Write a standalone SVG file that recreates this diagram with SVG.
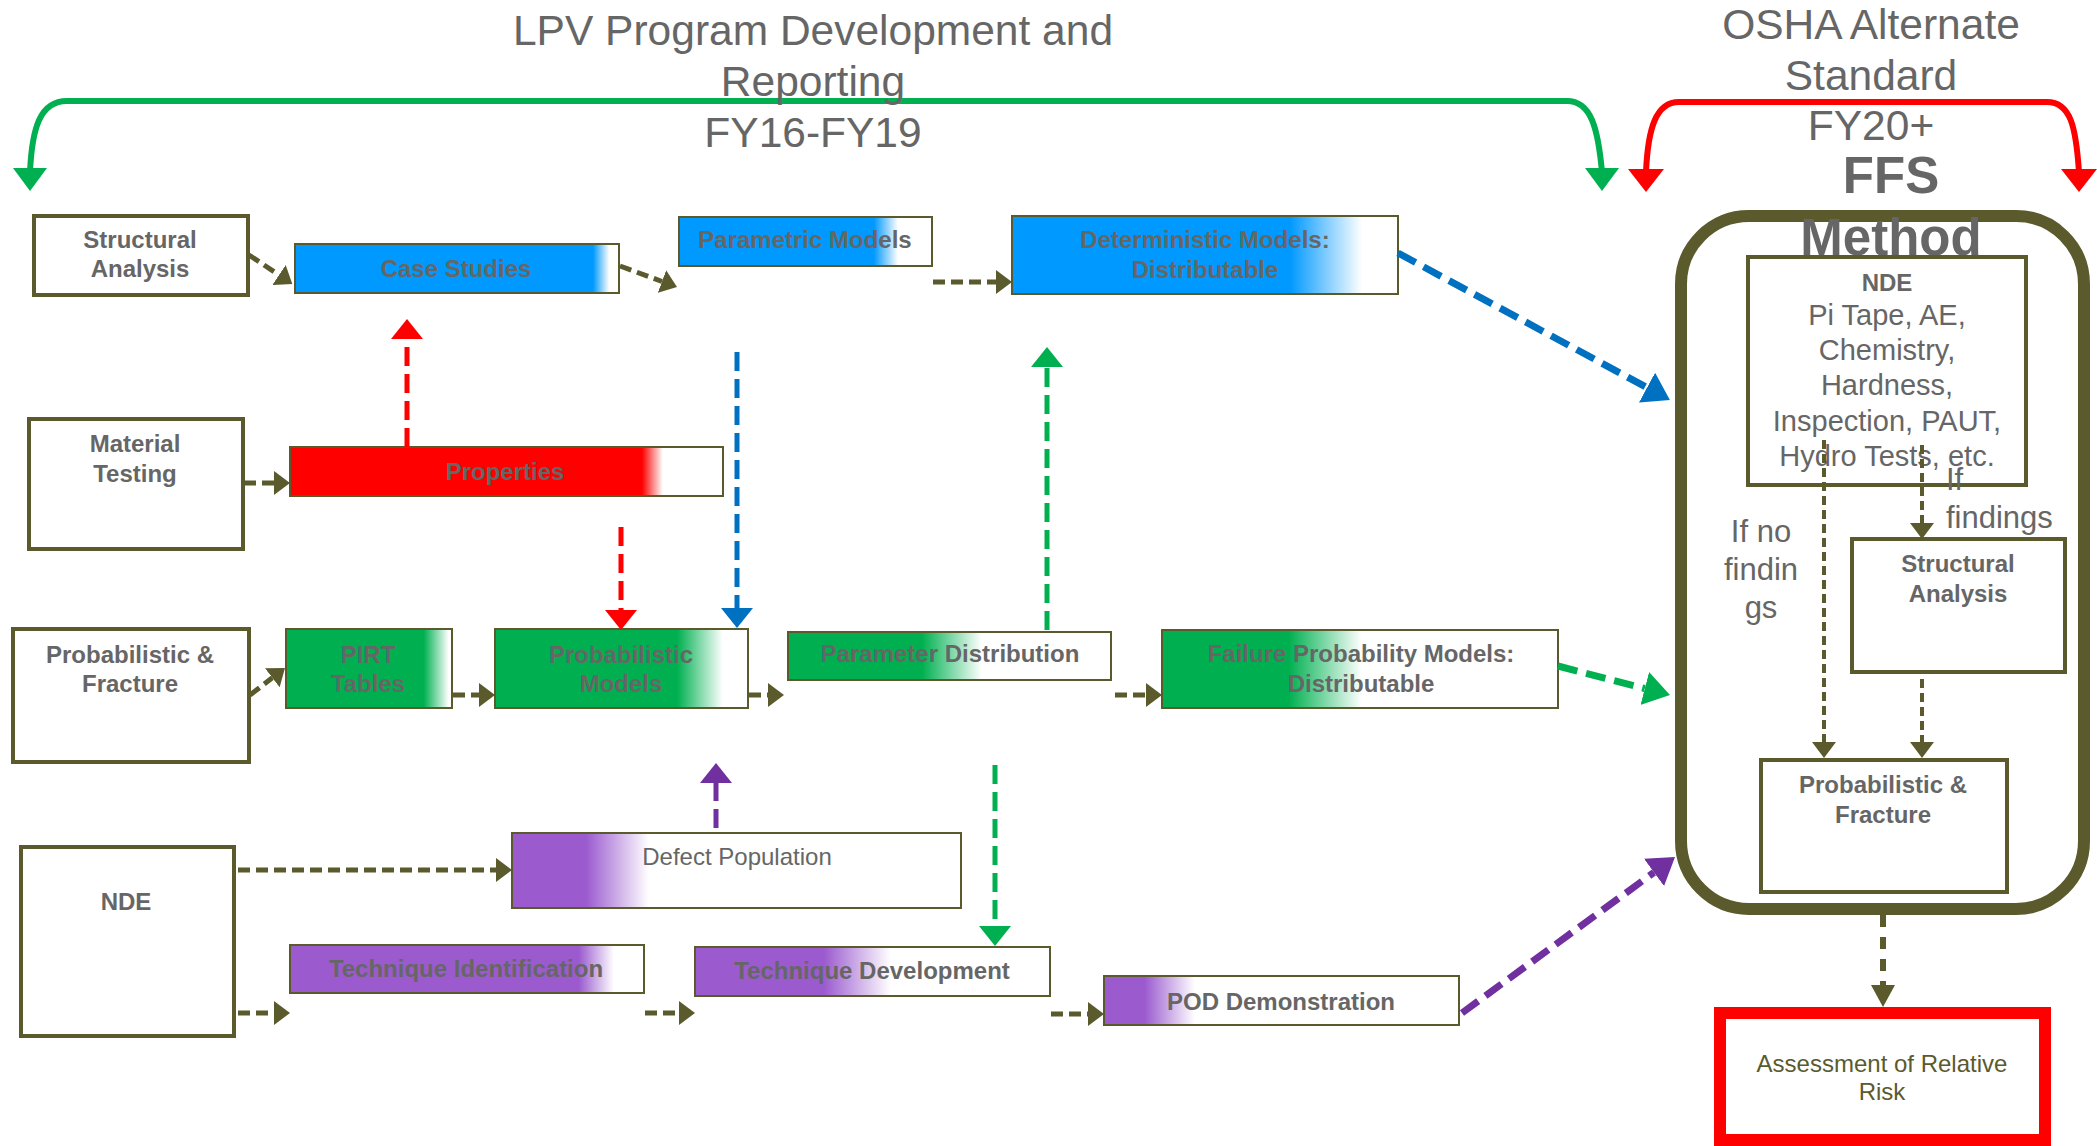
<svg xmlns="http://www.w3.org/2000/svg" width="2097" height="1146" viewBox="0 0 2097 1146">
<style>
text{font-family:"Liberation Sans",Arial,sans-serif;fill:#666;text-anchor:middle}
.t42{font-size:42.5px}
.t51{font-size:51px;font-weight:bold}
.b24{font-size:24px;font-weight:bold}
.n24{font-size:24px}
.n28{font-size:29px}
.n31{font-size:31px}
.box{fill:#fff;stroke:#5a5a2d;stroke-width:4}
.cbox{stroke:#5a5a2d;stroke-width:2}
.ol{fill:none;stroke:#5a5a2d;stroke-width:5;stroke-dasharray:12 6}
.oli{fill:none;stroke:#5a5a2d;stroke-width:4;stroke-dasharray:9 5}
.col{fill:none;stroke-width:5;stroke-dasharray:19 8}
.diag{fill:none;stroke-width:7;stroke-dasharray:20 9}
</style>
<defs>
<linearGradient id="gCS"><stop offset="0" stop-color="#0099ff"/><stop offset="0.92" stop-color="#0099ff"/><stop offset="0.97" stop-color="#fff"/></linearGradient>
<linearGradient id="gPM"><stop offset="0" stop-color="#0099ff"/><stop offset="0.77" stop-color="#0099ff"/><stop offset="0.866" stop-color="#fff"/></linearGradient>
<linearGradient id="gDM"><stop offset="0" stop-color="#0099ff"/><stop offset="0.72" stop-color="#0099ff"/><stop offset="0.907" stop-color="#fff"/></linearGradient>
<linearGradient id="gPR"><stop offset="0" stop-color="#ff0000"/><stop offset="0.813" stop-color="#ff0000"/><stop offset="0.861" stop-color="#fff"/></linearGradient>
<linearGradient id="gPT"><stop offset="0" stop-color="#00b050"/><stop offset="0.83" stop-color="#00b050"/><stop offset="0.98" stop-color="#fff"/></linearGradient>
<linearGradient id="gPBM"><stop offset="0" stop-color="#00b050"/><stop offset="0.72" stop-color="#00b050"/><stop offset="0.9" stop-color="#fff"/></linearGradient>
<linearGradient id="gPD"><stop offset="0" stop-color="#00b050"/><stop offset="0.415" stop-color="#00b050"/><stop offset="0.6" stop-color="#fff"/></linearGradient>
<linearGradient id="gFP"><stop offset="0" stop-color="#00b050"/><stop offset="0.32" stop-color="#00b050"/><stop offset="0.505" stop-color="#fff"/></linearGradient>
<linearGradient id="gDP"><stop offset="0" stop-color="#9b5bcf"/><stop offset="0.165" stop-color="#9b5bcf"/><stop offset="0.305" stop-color="#fff"/></linearGradient>
<linearGradient id="gTI"><stop offset="0" stop-color="#9b5bcf"/><stop offset="0.816" stop-color="#9b5bcf"/><stop offset="0.915" stop-color="#fff"/></linearGradient>
<linearGradient id="gTD"><stop offset="0" stop-color="#9b5bcf"/><stop offset="0.363" stop-color="#9b5bcf"/><stop offset="0.552" stop-color="#fff"/></linearGradient>
<linearGradient id="gPOD"><stop offset="0" stop-color="#9b5bcf"/><stop offset="0.115" stop-color="#9b5bcf"/><stop offset="0.256" stop-color="#fff"/></linearGradient>
<marker id="aO" viewBox="0 0 16 24" refX="0" refY="12" markerWidth="16" markerHeight="24" markerUnits="userSpaceOnUse" orient="auto"><path d="M0,0 L16,12 L0,24 z" fill="#5a5a2d"/></marker>
<marker id="aOL" viewBox="0 0 22 24" refX="0" refY="12" markerWidth="22" markerHeight="24" markerUnits="userSpaceOnUse" orient="auto"><path d="M0,0 L22,12 L0,24 z" fill="#5a5a2d"/></marker>
<marker id="aR" viewBox="0 0 20 32" refX="0" refY="16" markerWidth="20" markerHeight="32" markerUnits="userSpaceOnUse" orient="auto"><path d="M0,0 L20,16 L0,32 z" fill="#ff0000"/></marker>
<marker id="aB" viewBox="0 0 20 32" refX="0" refY="16" markerWidth="20" markerHeight="32" markerUnits="userSpaceOnUse" orient="auto"><path d="M0,0 L20,16 L0,32 z" fill="#0070c0"/></marker>
<marker id="aG" viewBox="0 0 20 32" refX="0" refY="16" markerWidth="20" markerHeight="32" markerUnits="userSpaceOnUse" orient="auto"><path d="M0,0 L20,16 L0,32 z" fill="#00b050"/></marker>
<marker id="aP" viewBox="0 0 20 32" refX="0" refY="16" markerWidth="20" markerHeight="32" markerUnits="userSpaceOnUse" orient="auto"><path d="M0,0 L20,16 L0,32 z" fill="#7030a0"/></marker>
<marker id="aBL" viewBox="0 0 26 34" refX="0" refY="17" markerWidth="26" markerHeight="34" markerUnits="userSpaceOnUse" orient="auto"><path d="M0,0 L26,17 L0,34 z" fill="#0070c0"/></marker>
<marker id="aGL" viewBox="0 0 26 34" refX="0" refY="17" markerWidth="26" markerHeight="34" markerUnits="userSpaceOnUse" orient="auto"><path d="M0,0 L26,17 L0,34 z" fill="#00b050"/></marker>
<marker id="aPL" viewBox="0 0 26 34" refX="0" refY="17" markerWidth="26" markerHeight="34" markerUnits="userSpaceOnUse" orient="auto"><path d="M0,0 L26,17 L0,34 z" fill="#7030a0"/></marker>
</defs>
<rect width="2097" height="1146" fill="#fff"/>

<g id="bracket-lpv">
<path d="M30,172 C32,128 40,101 67,101 L1567,101 C1591,101 1598,128 1602,172" fill="none" stroke="#00b050" stroke-width="6"/>
<path d="M13,168 L47,168 L30,191 z" fill="#00b050"/>
<path d="M1585,168 L1619,168 L1602,191 z" fill="#00b050"/>
<text class="t42" x="813" y="45">LPV Program Development and</text>
<text class="t42" x="813" y="96">Reporting</text>
<text class="t42" x="813" y="147">FY16-FY19</text>
</g>

<g id="bracket-osha">
<path d="M1646,172 C1648,128 1656,102 1679,102 L2047,102 C2071,102 2076,128 2079,172" fill="none" stroke="#ff0000" stroke-width="6"/>
<path d="M1628,169 L1664,169 L1646,192 z" fill="#ff0000"/>
<path d="M2061,169 L2097,169 L2079,192 z" fill="#ff0000"/>
</g>

<g id="ffs-method">
<rect x="1681" y="216" width="403" height="693" rx="68" ry="68" fill="#fff" stroke="#5a5a2d" stroke-width="12"/>
<text class="t42" x="1871" y="39">OSHA Alternate</text>
<text class="t42" x="1871" y="90">Standard</text>
<text class="t42" x="1871" y="140">FY20+</text>
<text class="t51" x="1891" y="193">FFS</text>
<text class="t51" x="1891" y="255">Method</text>
</g>

<g id="ffs-nde">
<rect class="box" x="1748" y="257" width="278" height="228"/>
<text class="b24" x="1887" y="291">NDE</text>
<text class="n28" x="1887" y="325">Pi Tape, AE,</text>
<text class="n28" x="1887" y="360">Chemistry,</text>
<text class="n28" x="1887" y="395">Hardness,</text>
<text class="n28" x="1887" y="431">Inspection, PAUT,</text>
<text class="n28" x="1887" y="466">Hydro Tests, etc.</text>
</g>

<g id="label-findings">
<text class="n31" x="1946" y="490" style="text-anchor:start">If</text>
<text class="n31" x="1946" y="528" style="text-anchor:start">findings</text>
</g>
<g id="label-no-findings">
<text class="n31" x="1761" y="542">If no</text>
<text class="n31" x="1761" y="580">findin</text>
<text class="n31" x="1761" y="618">gs</text>
</g>

<g id="ffs-structural">
<rect class="box" x="1852" y="539" width="213" height="133"/>
<text class="b24" x="1958" y="572">Structural</text>
<text class="b24" x="1958" y="602">Analysis</text>
</g>

<g id="ffs-probabilistic">
<rect class="box" x="1761" y="760" width="246" height="132"/>
<text class="b24" x="1883" y="793">Probabilistic &amp;</text>
<text class="b24" x="1883" y="823">Fracture</text>
</g>

<g id="assessment">
<rect x="1720" y="1013" width="325" height="127" fill="#fff" stroke="#ff0000" stroke-width="12"/>
<text class="n24" x="1882" y="1072" style="fill:#5a5a2d">Assessment of Relative</text>
<text class="n24" x="1882" y="1100" style="fill:#5a5a2d">Risk</text>
</g>

<g id="structural-analysis">
<rect class="box" x="34" y="216" width="214" height="79"/>
<text class="b24" x="140" y="248">Structural</text>
<text class="b24" x="140" y="277">Analysis</text>
</g>
<g id="material-testing">
<rect class="box" x="29" y="419" width="214" height="130"/>
<text class="b24" x="135" y="452">Material</text>
<text class="b24" x="135" y="482">Testing</text>
</g>
<g id="probabilistic-fracture">
<rect class="box" x="13" y="629" width="236" height="133"/>
<text class="b24" x="130" y="663">Probabilistic &amp;</text>
<text class="b24" x="130" y="692">Fracture</text>
</g>
<g id="nde">
<rect class="box" x="21" y="847" width="213" height="189"/>
<text class="b24" x="126" y="910">NDE</text>
</g>

<g id="case-studies">
<rect class="cbox" x="295" y="244" width="324" height="49" fill="url(#gCS)"/>
<text class="b24" x="456" y="277">Case Studies</text>
</g>
<g id="parametric-models">
<rect class="cbox" x="679" y="217" width="253" height="49" fill="url(#gPM)"/>
<text class="b24" x="805" y="248">Parametric Models</text>
</g>
<g id="deterministic-models">
<rect class="cbox" x="1012" y="216" width="386" height="78" fill="url(#gDM)"/>
<text class="b24" x="1205" y="248">Deterministic Models:</text>
<text class="b24" x="1205" y="278">Distributable</text>
</g>
<g id="properties">
<rect class="cbox" x="290" y="447" width="433" height="49" fill="url(#gPR)"/>
<text class="b24" x="505" y="480">Properties</text>
</g>
<g id="pirt-tables">
<rect class="cbox" x="286" y="629" width="166" height="79" fill="url(#gPT)"/>
<text class="b24" x="368" y="663">PIRT</text>
<text class="b24" x="368" y="692">Tables</text>
</g>
<g id="probabilistic-models">
<rect class="cbox" x="495" y="629" width="253" height="79" fill="url(#gPBM)"/>
<text class="b24" x="621" y="663">Probabilistic</text>
<text class="b24" x="621" y="692">Models</text>
</g>
<g id="parameter-distribution">
<rect class="cbox" x="788" y="632" width="323" height="48" fill="url(#gPD)"/>
<text class="b24" x="950" y="662">Parameter Distribution</text>
</g>
<g id="failure-probability">
<rect class="cbox" x="1162" y="630" width="396" height="78" fill="url(#gFP)"/>
<text class="b24" x="1361" y="662">Failure Probability Models:</text>
<text class="b24" x="1361" y="692">Distributable</text>
</g>
<g id="defect-population">
<rect class="cbox" x="512" y="833" width="449" height="75" fill="url(#gDP)"/>
<text class="n24" x="737" y="865">Defect Population</text>
</g>
<g id="technique-identification">
<rect class="cbox" x="290" y="945" width="354" height="48" fill="url(#gTI)"/>
<text class="b24" x="466" y="977">Technique Identification</text>
</g>
<g id="technique-development">
<rect class="cbox" x="695" y="947" width="355" height="49" fill="url(#gTD)"/>
<text class="b24" x="872" y="979">Technique Development</text>
</g>
<g id="pod-demonstration">
<rect class="cbox" x="1104" y="976" width="355" height="49" fill="url(#gPOD)"/>
<text class="b24" x="1281" y="1010">POD Demonstration</text>
</g>

<g id="connectors">
<path class="ol" d="M249,255 L279,275" marker-end="url(#aO)"/>
<path class="ol" d="M620,266 L662,281.5" marker-end="url(#aO)"/>
<path class="ol" d="M933,282 L996,282" marker-end="url(#aO)"/>
<path class="ol" d="M244,483 L274,483" marker-end="url(#aO)"/>
<path class="ol" d="M250,695 L272.3,677.8" marker-end="url(#aO)"/>
<path class="ol" d="M453,695 L479,695" marker-end="url(#aO)"/>
<path class="ol" d="M749,695 L768,695" marker-end="url(#aO)"/>
<path class="ol" d="M1115,695 L1146,695" marker-end="url(#aO)"/>
<path class="ol" d="M238,870 L496,870" marker-end="url(#aO)"/>
<path class="ol" d="M238,1013 L274,1013" marker-end="url(#aO)"/>
<path class="ol" d="M645,1013 L679,1013" marker-end="url(#aO)"/>
<path class="ol" d="M1051,1014 L1088,1014" marker-end="url(#aO)"/>
<path class="oli" d="M1824,440 L1824,742" marker-end="url(#aO)"/>
<path class="oli" d="M1922,445 L1922,523" marker-end="url(#aO)"/>
<path class="oli" d="M1922,679 L1922,742" marker-end="url(#aO)"/>
<path fill="none" stroke="#5a5a2d" stroke-width="6" stroke-dasharray="12 10" d="M1883,915 L1883,985" marker-end="url(#aOL)"/>
<path class="col" stroke="#ff0000" d="M407,447 L407,339" marker-end="url(#aR)"/>
<path class="col" stroke="#ff0000" d="M621,527 L621,610" marker-end="url(#aR)"/>
<path class="col" stroke="#0070c0" d="M737,352 L737,608" marker-end="url(#aB)"/>
<path class="col" stroke="#00b050" d="M1047,630 L1047,367" marker-end="url(#aG)"/>
<path class="col" stroke="#00b050" d="M995,765 L995,926" marker-end="url(#aG)"/>
<path class="col" stroke="#7030a0" d="M716,828 L716,783" marker-end="url(#aP)"/>
<path class="diag" stroke="#0070c0" d="M1398,253 L1647,387.6" marker-end="url(#aBL)"/>
<path class="diag" stroke="#00b050" d="M1558,666 L1644.8,688.5" marker-end="url(#aGL)"/>
<path class="diag" stroke="#7030a0" d="M1462,1013 L1654,872.4" marker-end="url(#aPL)"/>
</g>
</svg>
